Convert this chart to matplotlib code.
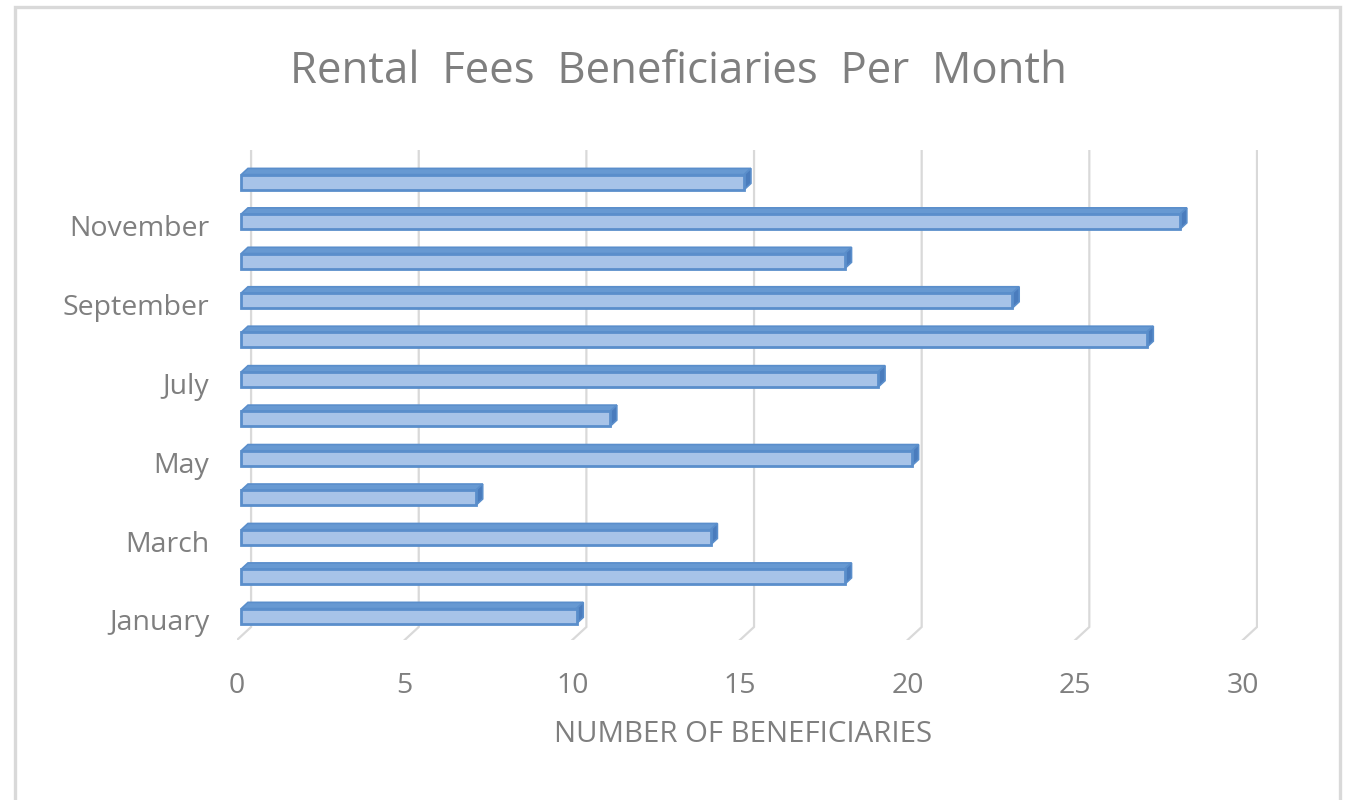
"""
Rental fees beneficiaries per month -- Excel-style 3D clustered bar chart.
"""

import matplotlib
matplotlib.use("Agg")
import matplotlib.pyplot as plt
from matplotlib.patches import Polygon, Rectangle

# --- data --------------------------------------------------------------------
months = ["January", "February", "March", "April", "May", "June", "July",
          "August", "September", "October", "November", "December"]
beneficiaries = [10, 18, 14, 7, 20, 11, 19, 27, 23, 18, 28, 15]
x_ticks = [0, 5, 10, 15, 20, 25, 30]

TITLE = "Rental  Fees  Beneficiaries  Per  Month"
XLABEL = "NUMBER OF BENEFICIARIES"

# --- style -------------------------------------------------------------------
TEXT = "#7f7f7f"
GRID = "#d9d9d9"
FRONT = "#a7c3e8"
TOP = "#6799d2"
SIDE = "#4a7cbd"
EDGE = "#5a8ecb"
FONT = ["Open Sans", "DejaVu Sans"]

W, H = 1348, 800
# 3D look: depth of the floor, in data units (x = value, y = category)
DX, DY = 0.42, 0.33
D0, D1 = 0.30, 0.78          # bar sits between these fractions of the depth
HALF = 0.19                  # half height of a bar's front face
Y0 = -0.507                  # front edge of the floor

plt.rcParams["font.family"] = FONT

fig = plt.figure(figsize=(W / 100, H / 100), dpi=100)
ax = fig.add_axes([237 / W, (H - 640) / H, (1258 - 237) / W, 490 / H])
ax.set_xlim(0, 1021 / 33.53)
ax.set_ylim(Y0, Y0 + 490 / 39.45)

# gridlines on the back wall + short floor ticks
for t in x_ticks:
    ax.plot([t, t + DX, t + DX], [Y0, Y0 + DY, Y0 + 490 / 39.45],
            color=GRID, lw=1.6, solid_joinstyle="miter", zorder=1)

# bars, drawn back to front
for i in range(len(months) - 1, -1, -1):
    v = beneficiaries[i]
    x0, x1 = D0 * DX, v + D0 * DX
    yb, yt = i + D0 * DY - HALF, i + D0 * DY + HALF
    sx, sy = (D1 - D0) * DX, (D1 - D0) * DY
    top = Polygon([(x0, yt), (x1, yt), (x1 + sx, yt + sy), (x0 + sx, yt + sy)],
                  closed=True, facecolor=TOP, edgecolor=EDGE, lw=1.2, zorder=3)
    side = Polygon([(x1, yb), (x1 + sx, yb + sy), (x1 + sx, yt + sy), (x1, yt)],
                   closed=True, facecolor=SIDE, edgecolor=EDGE, lw=1.2, zorder=3)
    front = Rectangle((x0, yb), v, yt - yb, facecolor=FRONT, edgecolor=EDGE,
                      lw=2.0, zorder=4)
    for p in (top, side, front):
        ax.add_patch(p)

ax.set_xticks(x_ticks)
ax.set_xticklabels([str(t) for t in x_ticks])
ax.set_yticks(range(0, len(months), 2))
ax.set_yticklabels(months[::2])
ax.tick_params(length=0, labelsize=20.5, labelcolor=TEXT)
ax.tick_params(axis="x", pad=23)
ax.tick_params(axis="y", pad=20)
for s in ax.spines.values():
    s.set_visible(False)

fig.text(678 / W, 1 - 83 / H, TITLE, ha="center", va="baseline",
         fontsize=31.5, color=TEXT)
fig.text(743 / W, 1 - 734 / H, XLABEL, ha="center", va="center",
         fontsize=21.2, color=TEXT)

# light chart-area border (bottom edge runs off the picture)
fig.patches.append(Rectangle((14.5 / W, -0.05), (1340 - 14.5) / W, 1.05 - 7.5 / H,
                             transform=fig.transFigure, fill=False,
                             edgecolor=GRID, lw=2.4))

fig.savefig("out.png", dpi=100)
